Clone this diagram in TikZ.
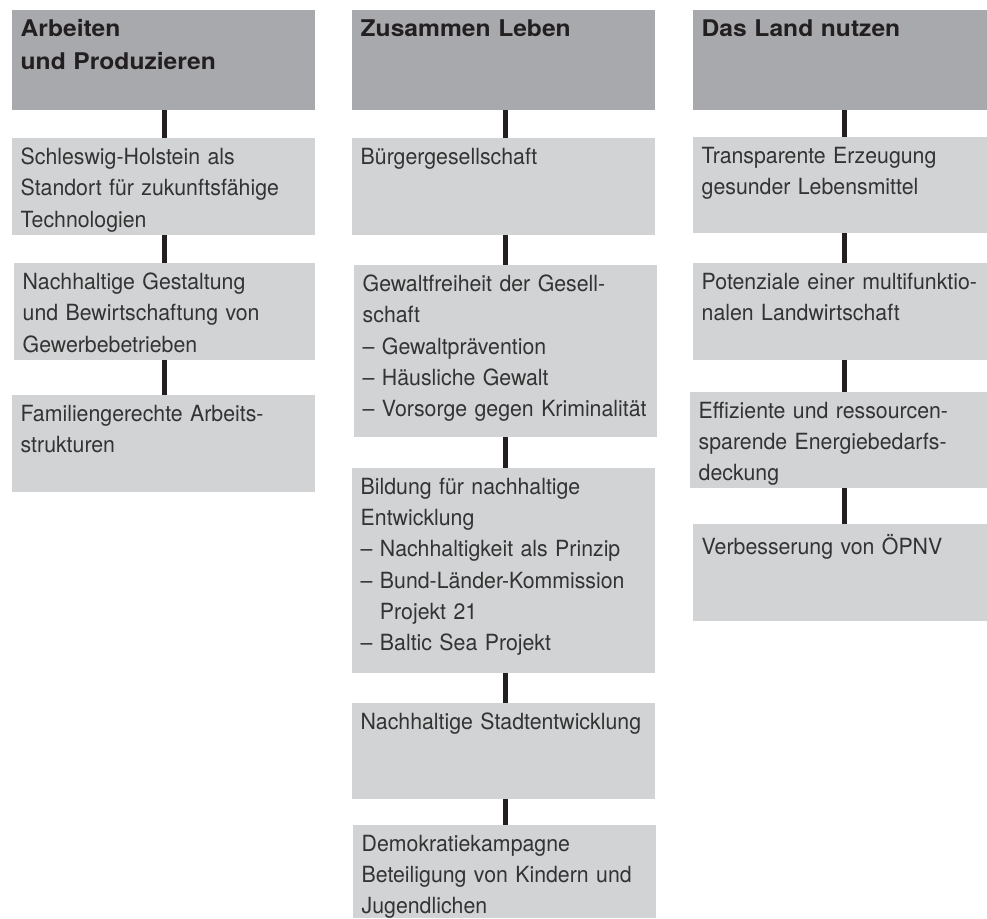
\documentclass[tikz,border=0pt]{standalone}
\usepackage{fontspec}
\setmainfont{TeX Gyre Heros}
\newfontfamily\bodyfont{TeX Gyre Heros}[FakeStretch=0.955]
\newfontfamily\hdrfont{TeX Gyre Heros}[FakeStretch=1.07]
\setlength\parindent{0pt}
\definecolor{hdrgray}{HTML}{A7A9AC}
\definecolor{itmgray}{HTML}{D1D3D4}
\definecolor{linecol}{HTML}{231F20}
\definecolor{hdrtxt}{HTML}{231F20}
\definecolor{bodytxt}{HTML}{333333}
\newcommand\firstbody{\rule{0pt}{16pt}}
\newcommand\firsthdr{\rule{0pt}{19pt}}
\newcommand\hdrbox[6]{%
  \node[hdrbg, minimum width=#4pt, minimum height=#5pt] (#1) at (#2,#3) {};
  \node[htxt] (#1t) at ([xshift=8.5pt,yshift=-7.7pt]#1.north west) {\firsthdr #6};
}
\newcommand\itmbox[6]{%
  \node[itmbg, minimum width=#4pt, minimum height=#5pt] (#1) at (#2,#3) {};
  \node[btxt] (#1t) at ([xshift=8.5pt,yshift=-9.7pt]#1.north west) {\firstbody #6};
}
\begin{document}
\begin{tikzpicture}[x=1pt,y=-1pt,
  hdrbg/.style={fill=hdrgray, draw=none, anchor=north west, inner sep=0pt, outer sep=0pt},
  itmbg/.style={fill=itmgray, draw=none, anchor=north west, inner sep=0pt, outer sep=0pt},
  htxt/.style={anchor=north west, inner sep=0pt, align=left, text width=290pt,
    font=\hdrfont\fontsize{23}{32.6}\selectfont\bfseries, text=hdrtxt},
  btxt/.style={anchor=north west, inner sep=0pt, align=left, text width=292pt,
    font=\bodyfont\fontsize{22.3}{31.3}\selectfont, text=bodytxt},
  link/.style={draw=linecol, line width=5pt}]
\useasboundingbox (0,0) rectangle (987,918);
\coordinate (c1) at (164,0);
\coordinate (c2) at (505.5,0);
\coordinate (c3) at (844.5,0);

% column 1
\hdrbox{h1}{12}{10}{303}{100}{Arbeiten\\und Produzieren}
\itmbox{a1}{12}{138}{303}{97}{Schleswig-Holstein als\\Standort für zukunftsfähige\\Technologien}
\itmbox{a2}{14}{263}{301}{97}{Nachhaltige Gestaltung\\und Bewirtschaftung von\\Gewerbebetrieben}
\itmbox{a3}{12}{395}{303}{97}{Familiengerechte Arbeits-\\strukturen}

% column 2
\hdrbox{h2}{352}{10}{303}{100}{Zusammen Leben}
\itmbox{b1}{352}{138}{303}{97}{Bürgergesellschaft}
\itmbox{b2}{354}{265}{303}{172}{Gewaltfreiheit der Gesell-\\schaft\\– Gewaltprävention\\– Häusliche Gewalt\\– Vorsorge gegen Kriminalität}
\itmbox{b3}{352}{468}{303}{205}{Bildung für nachhaltige\\Entwicklung\\– Nachhaltigkeit als Prinzip\\– Bund-Länder-Kommission\\\phantom{– }Projekt 21\\– Baltic Sea Projekt}
\itmbox{b4}{352}{703}{303}{96}{Nachhaltige Stadtentwicklung}
\itmbox{b5}{353}{825}{303}{93}{Demokratiekampagne\\Beteiligung von Kindern und\\Jugendlichen}

% column 3
\hdrbox{h3}{693}{10}{294}{100}{Das Land nutzen}
\itmbox{d1}{693}{137}{294}{96}{Transparente Erzeugung\\gesunder Lebensmittel}
\itmbox{d2}{693}{263}{294}{97}{Potenziale einer multifunktio-\\nalen Landwirtschaft}
\itmbox{d3}{690}{392}{297}{96}{Effiziente und ressourcen-\\sparende Energiebedarfs-\\deckung}
\itmbox{d4}{693}{524}{294}{97}{Verbesserung von ÖPNV}

% connectors
\draw[link] (h1.south -| c1) -- (a1.north -| c1);
\draw[link] (a1.south -| c1) -- (a2.north -| c1);
\draw[link] (a2.south -| c1) -- (a3.north -| c1);

\draw[link] (h2.south -| c2) -- (b1.north -| c2);
\draw[link] (b1.south -| c2) -- (b2.north -| c2);
\draw[link] (b2.south -| c2) -- (b3.north -| c2);
\draw[link] (b3.south -| c2) -- (b4.north -| c2);
\draw[link] (b4.south -| c2) -- (b5.north -| c2);

\draw[link] (h3.south -| c3) -- (d1.north -| c3);
\draw[link] (d1.south -| c3) -- (d2.north -| c3);
\draw[link] (d2.south -| c3) -- (d3.north -| c3);
\draw[link] (d3.south -| c3) -- (d4.north -| c3);
\end{tikzpicture}
\end{document}
